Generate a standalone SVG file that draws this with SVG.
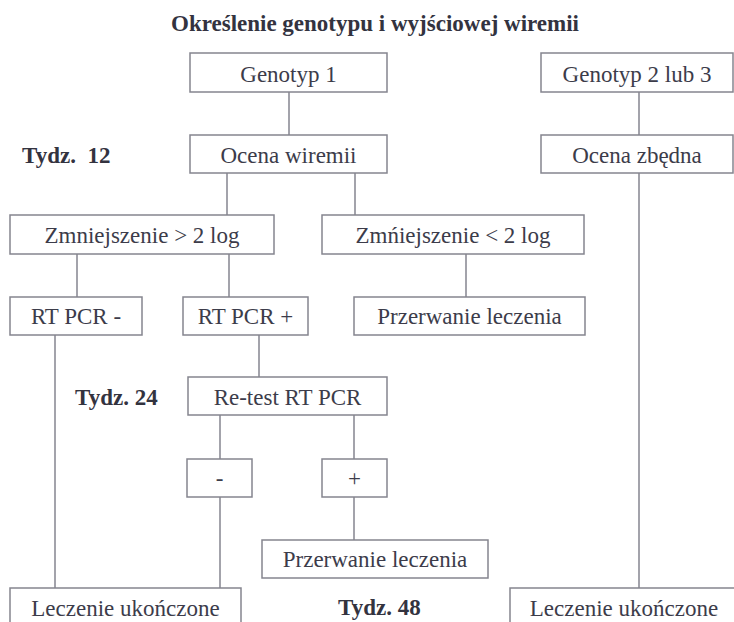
<svg xmlns="http://www.w3.org/2000/svg" width="734" height="622" viewBox="0 0 734 622">
<style>
.box{fill:#ffffff;stroke:#85858f;stroke-width:1.5}
.ln{stroke:#85858f;stroke-width:1.5;fill:none}
text{font-family:'Liberation Serif','DejaVu Serif',serif}
.t{font-size:23px;fill:#3c3c4a;text-anchor:middle}
.b{font-size:23px;font-weight:bold;fill:#33333f}
</style>
<rect width="734" height="622" fill="#ffffff"/>
<text class="b" x="375" y="31" text-anchor="middle" font-size="24">Określenie genotypu i wyjściowej wiremii</text>
<text class="b" x="22" y="163" xml:space="preserve">Tydz.  12</text>
<text class="b" x="75" y="405">Tydz. 24</text>
<text class="b" x="338" y="615">Tydz. 48</text>
<g id="connectors">
<line class="ln" x1="289" y1="92" x2="289" y2="135"/>
<line class="ln" x1="639" y1="92" x2="639" y2="135"/>
<line class="ln" x1="227" y1="173" x2="227" y2="215"/>
<line class="ln" x1="355" y1="173" x2="355" y2="215"/>
<line class="ln" x1="639" y1="173" x2="639" y2="588"/>
<line class="ln" x1="77" y1="254" x2="77" y2="297"/>
<line class="ln" x1="229" y1="254" x2="229" y2="297"/>
<line class="ln" x1="466" y1="254" x2="466" y2="297"/>
<line class="ln" x1="55" y1="335" x2="55" y2="588"/>
<line class="ln" x1="259" y1="335" x2="259" y2="377"/>
<line class="ln" x1="220" y1="415" x2="220" y2="459"/>
<line class="ln" x1="354" y1="415" x2="354" y2="459"/>
<line class="ln" x1="220" y1="497" x2="220" y2="588"/>
<line class="ln" x1="354" y1="497" x2="354" y2="540"/>
</g>
<g id="genotyp1"><rect class="box" x="190" y="53" width="197" height="39"/><text class="t" x="288.5" y="82">Genotyp 1</text></g>
<g id="genotyp23"><rect class="box" x="541" y="53" width="192" height="39"/><text class="t" x="637" y="82">Genotyp 2 lub 3</text></g>
<g id="ocena_wiremii"><rect class="box" x="190" y="135" width="197" height="38"/><text class="t" x="288.5" y="163">Ocena wiremii</text></g>
<g id="ocena_zbedna"><rect class="box" x="541" y="135" width="192" height="38"/><text class="t" x="637" y="163">Ocena zbędna</text></g>
<g id="zmn_gt"><rect class="box" x="10" y="215" width="264" height="39"/><text class="t" x="142" y="243">Zmniejszenie &gt; 2 log</text></g>
<g id="zmn_lt"><rect class="box" x="322" y="215" width="262" height="39"/><text class="t" x="453" y="243">Zmńiejszenie &lt; 2 log</text></g>
<g id="rtpcr_minus"><rect class="box" x="10" y="297" width="132" height="38"/><text class="t" x="76" y="324">RT PCR -</text></g>
<g id="rtpcr_plus"><rect class="box" x="183" y="297" width="125" height="38"/><text class="t" x="245.5" y="324">RT PCR +</text></g>
<g id="przerwanie1"><rect class="box" x="354" y="297" width="231" height="38"/><text class="t" x="469.5" y="324">Przerwanie leczenia</text></g>
<g id="retest"><rect class="box" x="188" y="377" width="199" height="38"/><text class="t" x="287.5" y="405">Re-test RT PCR</text></g>
<g id="minus"><rect class="box" x="187" y="459" width="65" height="38"/><text class="t" x="219.5" y="486">-</text></g>
<g id="plus"><rect class="box" x="322" y="459" width="65" height="38"/><text class="t" x="354.5" y="486">+</text></g>
<g id="przerwanie2"><rect class="box" x="262" y="540" width="226" height="38"/><text class="t" x="375" y="567">Przerwanie leczenia</text></g>
<g id="leczenie_left"><rect class="box" x="10" y="588" width="231" height="44"/><text class="t" x="125.5" y="616">Leczenie ukończone</text></g>
<g id="leczenie_right"><rect class="box" x="510" y="588" width="230" height="44"/><text class="t" x="624" y="616">Leczenie ukończone</text></g>
</svg>
